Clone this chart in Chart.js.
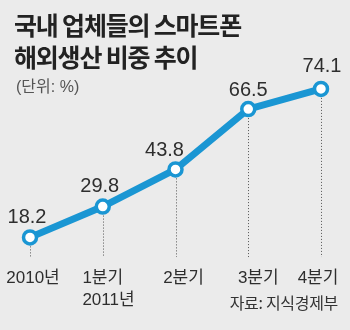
<!DOCTYPE html>
<html>
<head>
<meta charset="utf-8">
<script src="https://cdn.jsdelivr.net/npm/chart.js@4"></script>
<style>
  html, body { margin: 0; padding: 0; background: #ebebeb; }
  #wrap { position: relative; width: 350px; height: 330px; background: #ebebeb; overflow: hidden; }
  #chart { position: absolute; left: 0; top: 0; }
  .txt { position: absolute; font-family: "Noto Sans CJK KR", "Liberation Sans", sans-serif; color: #2b2b2b; white-space: nowrap; }
  #title { left: 14px; top: 8px; font-size: 25px; line-height: 32px; font-weight: bold; letter-spacing: -1.2px; color: #222; }
  #unit { left: 16px; top: 77px; font-size: 16px; line-height: 20px; color: #555; font-family: "Liberation Sans", "Noto Sans CJK KR", sans-serif; }
  #source { right: 12px; top: 291px; font-size: 16px; line-height: 22px; color: #333; letter-spacing: -0.3px; }
</style>
</head>
<body>
<div id="wrap">
  <canvas id="chart" width="350" height="330"></canvas>
  <div class="txt" id="title">국내 업체들의 스마트폰<br>해외생산 비중 추이</div>
  <div class="txt" id="unit">(단위: %)</div>
  <div class="txt" id="source">자료: 지식경제부</div>
</div>
<script>
  // Data
  const categories = ['2010년', '1분기', '2분기', '3분기', '4분기'];
  const subLabels  = ['', '2011년', '', '', ''];
  const shares     = [18.2, 29.8, 43.8, 66.5, 74.1];

  const line_blue = '#1a96d3';
  const text_dark = '#2e2e2e';

  // value labels, dotted drop lines and category labels
  const decorations = {
    id: 'decorations',
    afterDatasetsDraw(chart) {
      const ctx = chart.ctx;
      const meta = chart.getDatasetMeta(0);
      const yScale = chart.scales.y;
      const dropY = yScale.getPixelForValue(10.8);
      const valueDx = [-3, -3, -11, 0, 1];
      const valueDy = [20, 20, 19, 19, 22];
      const catDx = [3, 0, 8, 10, -3];

      ctx.save();
      // dotted lines under points
      ctx.strokeStyle = '#555';
      ctx.lineWidth = 1;
      ctx.setLineDash([1, 2]);
      meta.data.forEach(function (pt) {
        ctx.beginPath();
        ctx.moveTo(Math.round(pt.x) + 0.5, pt.y + 9);
        ctx.lineTo(Math.round(pt.x) + 0.5, dropY);
        ctx.stroke();
      });
      ctx.setLineDash([]);

      ctx.fillStyle = text_dark;
      ctx.textAlign = 'center';
      ctx.textBaseline = 'middle';
      ctx.font = '20px "Liberation Sans", sans-serif';
      meta.data.forEach(function (pt, i) {
        ctx.fillText(shares[i].toFixed(1), pt.x + valueDx[i], pt.y - valueDy[i]);
      });

      ctx.font = '17px "Liberation Sans", "Noto Sans CJK KR", sans-serif';
      meta.data.forEach(function (pt, i) {
        ctx.textAlign = 'center';
        ctx.fillText(categories[i], pt.x + catDx[i], 278);
        if (subLabels[i]) {
          ctx.textAlign = 'left';
          const w = ctx.measureText(categories[i]).width;
          ctx.fillText(subLabels[i], pt.x + catDx[i] - w / 2, 300);
        }
      });
      ctx.restore();
    }
  };

  const ctx = document.getElementById('chart').getContext('2d');
  const ShareChart = new Chart(ctx, {
    type: 'line',
    data: {
      labels: categories,
      datasets: [{
        label: '해외생산 비중',
        data: shares,
        borderColor: line_blue,
        borderWidth: 7,
        tension: 0,
        fill: false,
        pointRadius: 6.5,
        pointBorderWidth: 3.5,
        pointBackgroundColor: '#ffffff',
        pointBorderColor: line_blue,
        clip: false
      }]
    },
    options: {
      responsive: false,
      animation: false,
      layout: {
        padding: { left: 30, right: 29, top: 0, bottom: 0 }
      },
      scales: {
        x: { display: false },
        y: { display: false, min: -12.9, max: 103.8 }
      },
      plugins: {
        legend: { display: false },
        tooltip: { enabled: false }
      }
    },
    plugins: [decorations]
  });
</script>
</body>
</html>
